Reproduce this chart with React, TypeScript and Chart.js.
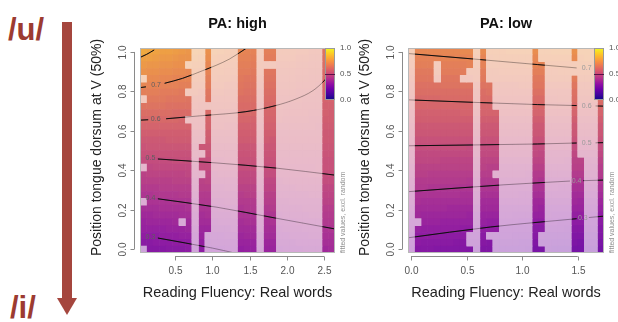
import React, { useEffect, useRef } from "react";
import { Chart, registerables } from "chart.js";
Chart.register(...registerables);

// ---------- data ----------
const Y_TICKS = [0, 0.2, 0.4, 0.6, 0.8, 1.0];
const HIGH_X_TICKS = [0.5, 1.0, 1.5, 2.0, 2.5];
const LOW_X_TICKS = [0, 0.5, 1.0, 1.5];
const LEGEND_TICKS = [0, 0.5, 1.0];
const Y_LIMITS = [-0.02, 1.02];
const HIGH_X_LIMITS = [0.03, 2.645];
const LOW_X_LIMITS = [-0.027, 1.736];

// fitted values (x100), rows from top (y=1) to bottom (y=0), 30 columns left to right
const HIGH_VALUES = [
  "82 81 80 79 79 78 77 76 76 75 74 74 73 72 71 71 70 69 69 68 68 67 67 67 66 66 65 65 64 64",
  "79 79 78 77 77 76 75 75 74 73 73 72 71 71 70 69 69 68 68 67 67 66 66 66 65 65 64 64 63 63",
  "77 76 76 75 75 74 74 73 72 72 71 71 70 69 69 68 68 67 67 66 66 65 65 65 64 64 63 63 62 62",
  "75 74 74 73 73 72 72 71 71 70 70 69 69 68 68 67 67 66 66 65 65 64 64 64 63 63 62 62 61 61",
  "73 72 72 71 71 70 70 70 69 69 68 68 67 67 66 66 65 65 65 64 64 63 63 63 62 62 61 61 61 60",
  "71 70 70 69 69 69 68 68 67 67 67 66 66 65 65 65 64 64 64 63 63 62 62 62 61 61 61 60 60 59",
  "68 68 68 67 67 67 66 66 66 65 65 65 65 64 64 64 63 63 62 62 62 61 61 61 60 60 60 59 59 59",
  "66 66 66 66 65 65 65 64 64 64 64 63 63 63 63 62 62 62 61 61 61 60 60 60 60 59 59 59 58 58",
  "64 64 64 64 63 63 63 63 63 62 62 62 62 62 61 61 61 61 60 60 60 60 59 59 59 58 58 58 57 57",
  "62 62 62 62 62 61 61 61 61 61 61 61 60 60 60 60 60 60 59 59 59 59 58 58 58 58 57 57 57 56",
  "60 60 60 60 60 60 59 59 59 59 59 59 59 59 59 59 59 58 58 58 58 58 57 57 57 57 56 56 56 56",
  "58 58 58 58 58 58 58 58 58 58 58 58 58 57 57 57 57 57 57 57 57 56 56 56 56 56 56 55 55 55",
  "56 56 56 56 56 56 56 56 56 56 56 56 56 56 56 56 56 56 56 56 56 55 55 55 55 55 55 55 54 54",
  "54 54 54 54 55 55 55 55 55 55 55 55 55 55 55 55 55 55 55 55 54 54 54 54 54 54 54 54 54 54",
  "52 53 53 53 53 53 53 53 53 53 53 53 53 53 53 53 53 53 53 53 53 53 53 53 53 53 53 53 53 53",
  "51 51 51 51 51 51 51 51 52 52 52 52 52 52 52 52 52 52 52 52 52 52 52 52 52 52 52 52 52 52",
  "49 49 49 49 49 50 50 50 50 50 50 50 50 51 51 51 51 51 51 51 51 51 51 51 51 51 51 51 51 51",
  "47 47 48 48 48 48 48 48 48 49 49 49 49 49 49 50 50 50 50 50 50 50 50 50 50 50 50 51 51 51",
  "45 46 46 46 46 46 46 47 47 47 47 47 48 48 48 48 48 48 48 49 49 49 49 49 49 49 50 50 50 50",
  "44 44 44 44 44 45 45 45 45 45 46 46 46 46 46 47 47 47 47 47 47 47 48 48 48 48 48 48 49 49",
  "42 42 42 43 43 43 43 43 44 44 44 44 44 45 45 45 45 45 46 46 46 46 46 46 47 47 47 47 47 47",
  "40 40 41 41 41 41 42 42 42 42 42 43 43 43 43 43 44 44 44 44 44 45 45 45 45 45 46 46 46 46",
  "38 39 39 39 39 40 40 40 40 41 41 41 41 42 42 42 42 42 43 43 43 43 43 44 44 44 44 44 45 45",
  "37 37 37 38 38 38 38 39 39 39 39 39 40 40 40 40 41 41 41 41 42 42 42 42 42 43 43 43 43 43",
  "35 35 36 36 36 36 37 37 37 37 38 38 38 38 39 39 39 39 40 40 40 40 41 41 41 41 42 42 42 42",
  "33 34 34 34 34 35 35 35 36 36 36 36 37 37 37 37 38 38 38 38 39 39 39 39 40 40 40 40 41 41",
  "32 32 32 32 33 33 33 34 34 34 34 35 35 35 36 36 36 36 37 37 37 37 38 38 38 39 39 39 39 40",
  "30 30 30 31 31 31 32 32 32 33 33 33 33 34 34 34 35 35 35 36 36 36 36 37 37 37 38 38 38 38",
  "28 28 29 29 29 30 30 30 31 31 31 32 32 32 32 33 33 33 34 34 34 35 35 35 36 36 36 36 37 37",
  "26 27 27 27 28 28 28 29 29 29 30 30 30 31 31 31 32 32 32 33 33 33 34 34 34 35 35 35 35 36",
];

// '#' = grid cell too far from data (drawn faded)
const HIGH_FADED = [
  "........##.####...#..#######..",
  "........##.####...#..#######..",
  ".......###.####...##########..",
  "........##.####...#..#######..",
  "#.......##.####...#..#######..",
  "........##.####...#..#######..",
  ".......###.####...#..#######..",
  "#.......##.####...#..#######..",
  "........#######...#..#######..",
  "........##.####...#..#######..",
  ".......###.####...#..#######..",
  "........##.####...#..#######..",
  "........##.####...#..#######..",
  "........##.####...#..#######..",
  "........#..####...#..#######..",
  "........##.####...#..#######..",
  "........#..####...#..#######..",
  "#.......#..####...#..#######..",
  "........##.####...#..#######..",
  "........#..####...#..#######..",
  "........#..####...#..#######..",
  "........#..####...#..#######..",
  "#.......#..####...#..#######..",
  "........#..####...#..#######..",
  "........#..####...#..#######..",
  "......#.#..####...#..#######..",
  "........#..####...#..#######..",
  "........#.#####...#..#######..",
  "........#.#####...#..#######..",
  "#.......#.#####...#..#######..",
];

const LOW_VALUES = [
  "71 71 71 71 71 71 71 71 72 72 72 72 72 72 72 73 73 73 73 73 73 73 74 74 74 74 74 74 74 75",
  "69 69 69 69 70 70 70 70 70 70 70 70 70 71 71 71 71 71 71 71 72 72 72 72 72 72 72 73 73 73",
  "68 68 68 68 68 68 68 68 68 69 69 69 69 69 69 69 69 69 70 70 70 70 70 70 70 70 71 71 71 71",
  "66 66 66 66 67 67 67 67 67 67 67 67 67 67 68 68 68 68 68 68 68 68 68 69 69 69 69 69 69 69",
  "65 65 65 65 65 65 65 65 65 65 66 66 66 66 66 66 66 66 66 66 66 67 67 67 67 67 67 67 67 67",
  "63 63 63 63 63 64 64 64 64 64 64 64 64 64 64 64 64 65 65 65 65 65 65 65 65 65 65 65 65 65",
  "62 62 62 62 62 62 62 62 62 62 62 62 63 63 63 63 63 63 63 63 63 63 63 63 63 63 64 64 64 64",
  "60 60 60 60 60 61 61 61 61 61 61 61 61 61 61 61 61 61 61 61 61 61 61 62 62 62 62 62 62 62",
  "59 59 59 59 59 59 59 59 59 59 59 59 59 59 59 59 59 59 60 60 60 60 60 60 60 60 60 60 60 60",
  "57 57 57 57 57 57 57 57 58 58 58 58 58 58 58 58 58 58 58 58 58 58 58 58 58 58 58 58 58 58",
  "56 56 56 56 56 56 56 56 56 56 56 56 56 56 56 56 56 56 56 56 56 56 56 56 56 56 56 56 56 56",
  "54 54 54 54 54 54 54 54 54 54 54 54 54 54 54 54 54 54 54 54 54 54 54 54 54 54 54 54 54 54",
  "53 53 53 53 53 53 53 53 53 53 53 53 53 53 53 53 53 53 53 53 53 53 53 53 53 53 53 53 53 53",
  "51 51 51 51 51 51 51 51 51 51 51 51 51 51 51 51 51 51 51 51 51 51 51 51 51 51 51 51 51 51",
  "50 50 50 50 50 50 50 50 50 49 49 49 49 49 49 49 49 49 49 49 49 49 49 49 49 49 49 49 49 49",
  "48 48 48 48 48 48 48 48 48 48 48 48 48 48 48 48 48 48 48 48 47 47 47 47 47 47 47 47 47 47",
  "47 47 47 47 47 46 46 46 46 46 46 46 46 46 46 46 46 46 46 46 46 46 46 46 45 45 45 45 45 45",
  "45 45 45 45 45 45 45 45 45 45 45 45 44 44 44 44 44 44 44 44 44 44 44 44 44 44 44 44 43 43",
  "44 44 44 43 43 43 43 43 43 43 43 43 43 43 43 43 43 43 42 42 42 42 42 42 42 42 42 42 42 42",
  "42 42 42 42 42 42 42 42 42 41 41 41 41 41 41 41 41 41 41 41 40 40 40 40 40 40 40 40 40 40",
  "41 41 41 40 40 40 40 40 40 40 40 40 40 40 39 39 39 39 39 39 39 39 39 38 38 38 38 38 38 38",
  "39 39 39 39 39 39 39 39 38 38 38 38 38 38 38 38 38 37 37 37 37 37 37 37 37 36 36 36 36 36",
  "38 38 37 37 37 37 37 37 37 37 37 36 36 36 36 36 36 36 36 35 35 35 35 35 35 35 34 34 34 34",
  "36 36 36 36 36 36 35 35 35 35 35 35 35 35 34 34 34 34 34 34 33 33 33 33 33 33 33 32 32 32",
  "35 35 34 34 34 34 34 34 34 33 33 33 33 33 33 33 32 32 32 32 32 32 31 31 31 31 31 31 30 30",
  "33 33 33 33 33 32 32 32 32 32 32 32 31 31 31 31 31 30 30 30 30 30 30 29 29 29 29 29 29 28",
  "32 32 31 31 31 31 31 31 30 30 30 30 30 30 29 29 29 29 29 28 28 28 28 28 27 27 27 27 27 26",
  "30 30 30 30 30 29 29 29 29 29 29 28 28 28 28 28 27 27 27 27 27 26 26 26 26 25 25 25 25 25",
  "29 29 28 28 28 28 28 27 27 27 27 27 26 26 26 26 26 25 25 25 25 25 24 24 24 24 23 23 23 23",
  "27 27 27 27 26 26 26 26 26 25 25 25 25 25 24 24 24 24 23 23 23 23 22 22 22 22 22 21 21 21",
];

const LOW_FADED = [
  "#.........#.#######.#####.###.",
  "#.........#.#######.#####.###.",
  "#...#.....#.#######..########.",
  "#...#....##.#######..########.",
  "#...#...###.#######..####.###.",
  "#.........#..######..####.###.",
  "#.........#..######..####.###.",
  "#.........#..######..####.###.",
  "#.........#..######..####.###.",
  "#.........#...#####..####.###.",
  "#.........#...#####..####.###.",
  "#.........#...#####..####.###.",
  "#.........#...#####..####.###.",
  "#.........#...#####..####.###.",
  "#.........#...#####..####.###.",
  "#.........#...#####..####.###.",
  "#.........#...#####..####..##.",
  "#.........#...#####..####..##.",
  "#.........#..######..####..##.",
  "#.........#...#####..####..##.",
  "#.........#...#####..####..##.",
  "#.........#...#####..####..##.",
  "#.........#...#####..####..##.",
  "#.........#...#####..####..##.",
  "#.........#...#####..####..##.",
  "##........#...#####..####..##.",
  "#.........#...#####..####..##.",
  "#........##.#######.#####..##.",
  "#........##..######.#####..##.",
  "#.........#..######..####..##.",
];

// contour lines: [x, y] points, null = gap for the level label
const HIGH_C08 = [[0.03, 0.972], [0.12, 0.988], [0.22, 1.01]];
const HIGH_C07 = [[0.03, 0.819], [0.11, 0.823], null, [0.36, 0.841], [0.6, 0.866], [0.87, 0.905], [1.05, 0.932], [1.23, 0.964], [1.46, 1.02]];
const HIGH_C06 = [[0.03, 0.654], [0.14, 0.656], null, [0.38, 0.661], [0.87, 0.677], [1.45, 0.697], [1.85, 0.728], [2.12, 0.761], [2.35, 0.804], [2.5, 0.854], [2.645, 0.92]];
const HIGH_C05 = [[0.27, 0.457], [1.05, 0.437], [1.85, 0.411], [2.645, 0.375]];
const HIGH_C04 = [[0.27, 0.255], [1.05, 0.213], [1.85, 0.157], [2.645, 0.102]];
const HIGH_C03 = [[0.27, 0.056], [1.0, 0.005], [1.3, -0.02]];
const HIGH_LABELS: [string, number, number][] = [["0.7", 0.245, 0.834], ["0.6", 0.24, 0.658], ["0.5", 0.17, 0.462], ["0.4", 0.17, 0.259], ["0.3", 0.17, 0.059]];

const LOW_C07 = [[-0.027, 0.992], [0.567, 0.964], [1.136, 0.936], [1.49, 0.919], null, [1.67, 0.914], [1.736, 0.912]];
const LOW_C06 = [[-0.027, 0.757], [1.136, 0.733], [1.49, 0.728], null, [1.66, 0.726], [1.736, 0.725]];
const LOW_C05 = [[-0.027, 0.524], [1.136, 0.533], [1.49, 0.538], null, [1.66, 0.539], [1.736, 0.54]];
const LOW_C04 = [[-0.027, 0.291], [0.836, 0.326], [1.43, 0.345], null, [1.55, 0.347], [1.736, 0.35]];
const LOW_C03 = [[-0.027, 0.057], [0.716, 0.112], [1.49, 0.154], null, [1.6, 0.16], [1.736, 0.167]];
const LOW_LABELS: [string, number, number][] = [["0.7", 1.58, 0.917], ["0.6", 1.58, 0.727], ["0.5", 1.58, 0.538], ["0.4", 1.49, 0.346], ["0.3", 1.545, 0.157]];

// ---------- styling ----------
const FONT = '"Liberation Sans", Arial, Helvetica, sans-serif';
const PLASMA = ["#0d0887", "#41049d", "#6a00a8", "#8f0da4", "#b12a90", "#cc4778", "#e16462", "#f2844b", "#fca636", "#fcce25", "#f0f921"];
const FADE = 0.6;
const MUTE = 0.13;
const MUTE_RGB = [150, 135, 150];
const ARROW = "#a5463e";

const hexToRgb = (h: string) => {
  const n = parseInt(h.slice(1), 16);
  return [(n >> 16) & 255, (n >> 8) & 255, n & 255];
};
const PLASMA_RGB = PLASMA.map(hexToRgb);
function plasmaRgb(v: number) {
  const t = Math.max(0, Math.min(1, v)) * 10;
  const i = Math.min(9, Math.floor(t));
  const f = t - i;
  const a = PLASMA_RGB[i], b = PLASMA_RGB[i + 1];
  return [0, 1, 2].map((k) => a[k] + (b[k] - a[k]) * f);
}
const muteRgb = (c: number[]) => c.map((x, k) => x + (MUTE_RGB[k] - x) * MUTE);
const rgbStr = (c: number[]) => `rgb(${c.map((x) => Math.round(x)).join(",")})`;
const fadeRgb = (c: number[]) => c.map((x) => x + (255 - x) * FADE);

type PanelSpec = {
  title: string;
  values: string[];
  faded: string[];
  xLimits: number[];
  xTicks: number[];
  contours: (number[] | null)[][];
  labels: [string, number, number][];
  labelColor: string;
  left: number;
  width: number;
  padding: { left: number; right: number; top: number; bottom: number };
};

function toLinePoints(pts: (number[] | null)[]) {
  const out: { x: number; y: number | null }[] = [];
  pts.forEach((p, i) => {
    if (p) out.push({ x: p[0], y: p[1] });
    else {
      const a = pts[i - 1] as number[], b = pts[i + 1] as number[];
      out.push({ x: (a[0] + b[0]) / 2, y: null });
    }
  });
  return out;
}

function buildDatasets(spec: PanelSpec) {
  const vals = spec.values.map((r) => r.trim().split(/\s+/).map(Number));
  const nRows = vals.length;
  const nCols = vals[0].length;
  const [x0, x1] = spec.xLimits;
  const [y0, y1] = Y_LIMITS;
  const cw = (x1 - x0) / nCols;
  const ch = (y1 - y0) / nRows;
  const base: any[] = [], baseCol: string[] = [], fad: any[] = [], fadCol: string[] = [];
  for (let r = 0; r < nRows; r++) {
    for (let c = 0; c < nCols; c++) {
      const raw = vals[r][c] ?? vals[r][vals[r].length - 1];
      const v = raw / 100;
      const isF = (spec.faded[r] || "")[c] === "#";
      const xc = x0 + (c + 0.5) * cw;
      const yTop = y1 - r * ch;
      const yBot = yTop - ch;
      const rgb = muteRgb(plasmaRgb(v));
      const col = rgbStr(isF ? fadeRgb(rgb) : rgb);
      base.push({ x: xc, y: [yBot, yTop] });
      baseCol.push(col);
      if (isF) {
        fad.push({ x: xc, y: [yBot, yTop] });
        fadCol.push(col);
      }
    }
  }
  const barCommon = {
    type: "bar" as const,
    grouped: false,
    barPercentage: 1,
    categoryPercentage: 1,
    borderWidth: 0,
  };
  const lineCommon = {
    type: "line" as const,
    borderWidth: 1,
    pointRadius: 0,
    pointHoverRadius: 0,
    spanGaps: false,
    fill: false,
    cubicInterpolationMode: "monotone" as const,
  };
  const datasets: any[] = [];
  datasets.push({ ...barCommon, data: base, backgroundColor: baseCol, order: 4 });
  spec.contours.forEach((c) =>
    datasets.push({ ...lineCommon, data: toLinePoints(c), borderColor: "#161616", order: 3 })
  );
  datasets.push({ ...barCommon, data: fad, backgroundColor: fadCol, order: 2 });
  spec.contours.forEach((c) =>
    datasets.push({ ...lineCommon, data: toLinePoints(c), borderColor: "rgba(0,0,0,0.33)", order: 1 })
  );
  return datasets;
}

function decorPlugin(spec: PanelSpec) {
  return {
    id: "rDecor",
    afterDatasetsDraw(chart: any) {
      const { ctx, chartArea: a, scales } = chart;
      const x = scales.x, y = scales.y;
      ctx.save();
      // contour labels
      ctx.font = `7px ${FONT}`;
      ctx.fillStyle = spec.labelColor;
      ctx.textAlign = "center";
      ctx.textBaseline = "middle";
      spec.labels.forEach(([t, lx, ly]) => ctx.fillText(t, x.getPixelForValue(lx), y.getPixelForValue(ly)));

      // plot box
      ctx.strokeStyle = "#b8b8b8";
      ctx.lineWidth = 1;
      ctx.strokeRect(a.left + 0.5, a.top + 0.5, a.right - a.left - 1, a.bottom - a.top - 1);

      // colour legend
      const cbL = a.right - 10, cbR = a.right, cbT = a.top, cbB = a.top + 52;
      const g = ctx.createLinearGradient(0, cbB, 0, cbT);
      PLASMA.forEach((c, i) => g.addColorStop(i / 10, c));
      ctx.fillStyle = g;
      ctx.fillRect(cbL, cbT, cbR - cbL, cbB - cbT);
      ctx.strokeStyle = "#9a9a9a";
      ctx.strokeRect(cbL + 0.5, cbT + 0.5, cbR - cbL - 1, cbB - cbT - 1);
      ctx.strokeStyle = "#5a1148";
      ctx.beginPath();
      const mid = cbB - (cbB - cbT) * 0.5;
      ctx.moveTo(cbL, Math.round(mid) + 0.5);
      ctx.lineTo(cbR, Math.round(mid) + 0.5);
      ctx.stroke();
      ctx.font = `8px ${FONT}`;
      ctx.fillStyle = "#555";
      ctx.textAlign = "left";
      LEGEND_TICKS.forEach((t) => ctx.fillText(t.toFixed(1), a.right + 5, cbB - (cbB - cbT) * t));

      // side note
      ctx.save();
      ctx.translate(a.right + 8, a.bottom);
      ctx.rotate(-Math.PI / 2);
      ctx.font = `7px ${FONT}`;
      ctx.fillStyle = "#8e8e8e";
      ctx.textAlign = "left";
      ctx.textBaseline = "middle";
      ctx.fillText("fitted values, excl. random", 0, 0);
      ctx.restore();

      // y axis (R style)
      ctx.strokeStyle = "#8a8a8a";
      ctx.lineWidth = 1;
      const ax = Math.round(a.left - 6) + 0.5;
      ctx.beginPath();
      ctx.moveTo(ax, y.getPixelForValue(Y_TICKS[0]));
      ctx.lineTo(ax, y.getPixelForValue(Y_TICKS[Y_TICKS.length - 1]));
      ctx.stroke();
      ctx.font = `10px ${FONT}`;
      ctx.fillStyle = "#555";
      ctx.textAlign = "center";
      ctx.textBaseline = "middle";
      Y_TICKS.forEach((t) => {
        const py = Math.round(y.getPixelForValue(t)) + 0.5;
        ctx.beginPath();
        ctx.moveTo(ax, py);
        ctx.lineTo(ax - 4, py);
        ctx.stroke();
        ctx.save();
        ctx.translate(a.left - 17, py);
        ctx.rotate(-Math.PI / 2);
        ctx.fillText(t.toFixed(1), 0, 0);
        ctx.restore();
      });

      // x axis
      const ay = Math.round(a.bottom + 3) + 0.5;
      const xt = spec.xTicks;
      ctx.beginPath();
      ctx.moveTo(x.getPixelForValue(xt[0]), ay);
      ctx.lineTo(x.getPixelForValue(xt[xt.length - 1]), ay);
      ctx.stroke();
      xt.forEach((t) => {
        const px = Math.round(x.getPixelForValue(t)) + 0.5;
        ctx.beginPath();
        ctx.moveTo(px, ay);
        ctx.lineTo(px, ay + 4);
        ctx.stroke();
        ctx.fillText(t.toFixed(1), px, a.bottom + 18);
      });

      // axis titles
      ctx.fillStyle = "#222";
      ctx.font = `14.5px ${FONT}`;
      ctx.fillText("Reading Fluency: Real words", (a.left + a.right) / 2, a.bottom + 40);
      ctx.save();
      ctx.translate(a.left - 43, (a.top + a.bottom) / 2 - 3);
      ctx.rotate(-Math.PI / 2);
      ctx.font = `14px ${FONT}`;
      ctx.fillText("Position tongue dorsum at V (50%)", 0, 0);
      ctx.restore();

      // main title
      ctx.fillStyle = "#111";
      ctx.font = `bold 14.5px ${FONT}`;
      ctx.fillText(spec.title, (a.left + a.right) / 2, a.top - 24);
      ctx.restore();
    },
  };
}

function Panel({ spec }: { spec: PanelSpec }) {
  const ref = useRef<HTMLCanvasElement>(null);
  useEffect(() => {
    if (!ref.current) return;
    const chart = new Chart(ref.current, {
      type: "bar",
      data: { datasets: buildDatasets(spec) },
      options: {
        responsive: false,
        maintainAspectRatio: false,
        animation: false,
        devicePixelRatio: 1,
        events: [],
        layout: { padding: spec.padding },
        plugins: { legend: { display: false }, tooltip: { enabled: false }, title: { display: false } },
        scales: {
          x: { type: "linear", min: spec.xLimits[0], max: spec.xLimits[1], display: false, offset: false, ticks: { stepSize: 0.5 } },
          y: { type: "linear", min: Y_LIMITS[0], max: Y_LIMITS[1], display: false },
        },
      } as any,
      plugins: [decorPlugin(spec)],
    });
    return () => chart.destroy();
  }, []);
  return (
    <div style={{ position: "absolute", left: spec.left, top: 0, width: spec.width, height: 322 }}>
      <canvas ref={ref} width={spec.width} height={322} style={{ display: "block", width: spec.width, height: 322 }} />
    </div>
  );
}

const HIGH_PANEL: PanelSpec = {
  title: "PA: high",
  values: HIGH_VALUES,
  faded: HIGH_FADED,
  xLimits: HIGH_X_LIMITS,
  xTicks: HIGH_X_TICKS,
  contours: [HIGH_C08, HIGH_C07, HIGH_C06, HIGH_C05, HIGH_C04, HIGH_C03],
  labels: HIGH_LABELS,
  labelColor: "#5e5e5e",
  left: 80,
  width: 280,
  padding: { left: 60, right: 25, top: 48, bottom: 69 },
};

const LOW_PANEL: PanelSpec = {
  title: "PA: low",
  values: LOW_VALUES,
  faded: LOW_FADED,
  xLimits: LOW_X_LIMITS,
  xTicks: LOW_X_TICKS,
  contours: [LOW_C07, LOW_C06, LOW_C05, LOW_C04, LOW_C03],
  labels: LOW_LABELS,
  labelColor: "#9a9a9a",
  left: 358,
  width: 260,
  padding: { left: 50, right: 14, top: 48, bottom: 69 },
};

export default function App() {
  return (
    <div style={{ position: "fixed", left: 0, top: 0, width: 618, height: 322, background: "#fff", overflow: "hidden", fontFamily: FONT }}>
      <div style={{ position: "absolute", left: 8, top: 15, fontSize: 31, fontWeight: "bold", lineHeight: "30px", color: "#9c3b31" }}>/u/</div>
      <div style={{ position: "absolute", left: 10, top: 293, fontSize: 31, fontWeight: "bold", lineHeight: "30px", color: "#9c3b31" }}>/i/</div>
      <div style={{ position: "absolute", left: 62, top: 22, width: 10, height: 278, background: ARROW }} />
      <div
        style={{
          position: "absolute",
          left: 56.5,
          top: 298,
          width: 0,
          height: 0,
          borderLeft: "10.5px solid transparent",
          borderRight: "10.5px solid transparent",
          borderTop: `17px solid ${ARROW}`,
        }}
      />
      <Panel spec={HIGH_PANEL} />
      <Panel spec={LOW_PANEL} />
    </div>
  );
}
